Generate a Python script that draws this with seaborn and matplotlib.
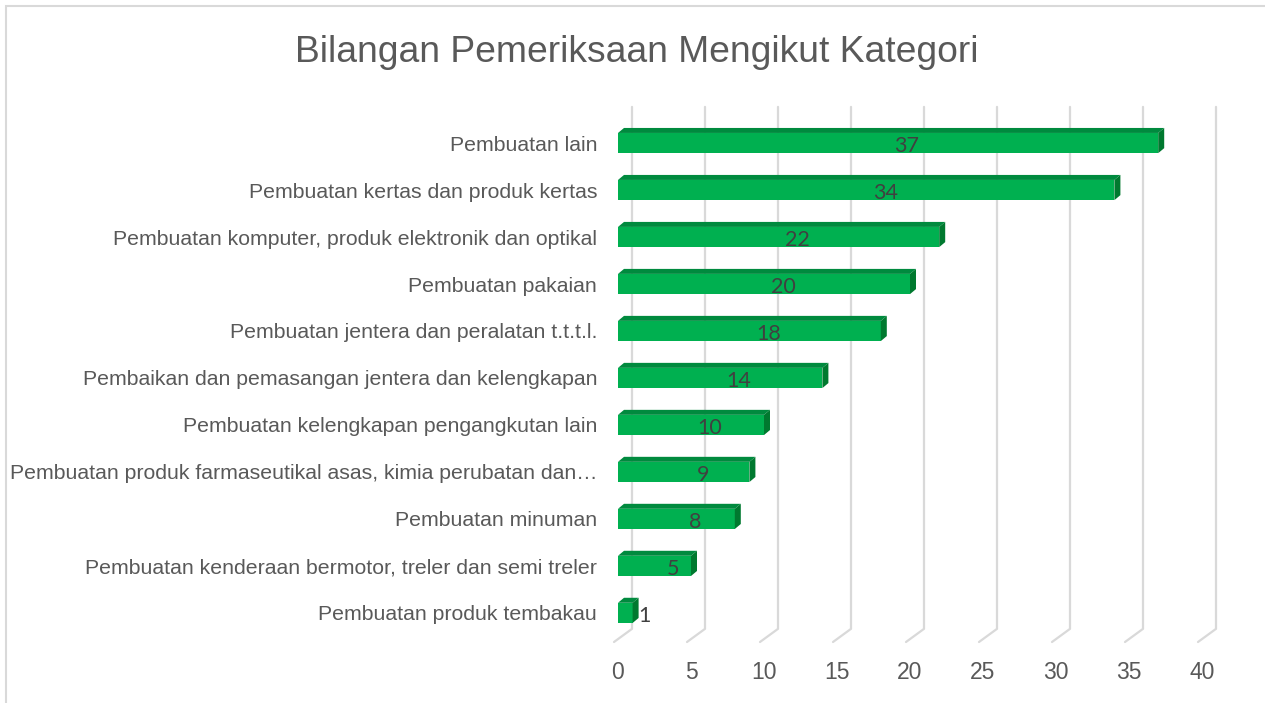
import matplotlib
matplotlib.use("Agg")
import matplotlib.pyplot as plt
import seaborn as sns
import pandas as pd
from matplotlib.patches import Polygon, Rectangle

# Data
categories = [
    "Pembuatan lain",
    "Pembuatan kertas dan produk kertas",
    "Pembuatan komputer, produk elektronik dan optikal",
    "Pembuatan pakaian",
    "Pembuatan jentera dan peralatan t.t.t.l.",
    "Pembaikan dan pemasangan jentera dan kelengkapan",
    "Pembuatan kelengkapan pengangkutan lain",
    "Pembuatan produk farmaseutikal asas, kimia perubatan dan\u2026",
    "Pembuatan minuman",
    "Pembuatan kenderaan bermotor, treler dan semi treler",
    "Pembuatan produk tembakau",
]
values = [37, 34, 22, 20, 18, 14, 10, 9, 8, 5, 1]
xticks = [0, 5, 10, 15, 20, 25, 30, 35, 40]

df = pd.DataFrame({"Kategori": categories, "Bilangan": values})

sns.set_theme(style="white")
plt.rcParams["font.family"] = ["Liberation Sans", "DejaVu Sans"]

W, H = 1265, 703
fig = plt.figure(figsize=(W / 100, H / 100), dpi=100)
ax = fig.add_axes([618 / W, (H - 642) / H, 584 / W, 537 / H])

green = "#00B050"
top_col = "#008A3E"
side_col = "#00792F"
grid_col = "#D9D9D9"
text_col = "#595959"

sns.barplot(data=df, x="Bilangan", y="Kategori", orient="h", color=green,
            width=0.43, saturation=1, ax=ax, zorder=3, linewidth=0)

ax.set_xlim(0, 40)
ax.set_ylim(10.62, -0.81)

# depth of the 3D bars, in data units
px_x = 584 / 40
px_y = 47
dx = 6 / px_x
dy = 5 / px_y

bars = list(ax.patches)
for p in bars:
    x0, v = p.get_x(), p.get_width()
    y0, h = p.get_y(), p.get_height()
    top = Polygon([(x0, y0), (x0 + v, y0), (x0 + v + dx, y0 - dy), (x0 + dx, y0 - dy)],
                  closed=True, facecolor=top_col, edgecolor="none", zorder=3, clip_on=False)
    side = Polygon([(x0 + v, y0), (x0 + v, y0 + h), (x0 + v + dx, y0 + h - dy), (x0 + v + dx, y0 - dy)],
                   closed=True, facecolor=side_col, edgecolor="none", zorder=3, clip_on=False)
    ax.add_patch(top)
    ax.add_patch(side)

# back wall gridlines with floor diagonal
back = 14 / px_x
front = -4 / px_x
for t in xticks:
    ax.plot([t + back, t + back, t + front], [-0.77, 10.34, 10.62],
            color=grid_col, lw=1.6, zorder=1, clip_on=False)

# value labels
lab_font = ["Lato", "DejaVu Sans"]
for i, v in enumerate(values):
    if v < 3:
        ax.text(v + dx, i + 0.06, str(v), ha="left", va="center",
                fontsize=15.5, color="#404040", family=lab_font, zorder=5)
    else:
        ax.text(v / 2 + 19 / px_x, i + 0.06, str(v), ha="center", va="center",
                fontsize=15.5, color="#404040", family=lab_font, zorder=5)

ax.set_xticks(xticks)
ax.set_xticklabels([str(t) for t in xticks])
ax.tick_params(axis="x", length=0, pad=14, labelsize=16.5, labelcolor=text_col)
ax.tick_params(axis="y", length=0, pad=15, labelsize=15.3, labelcolor=text_col)
ax.set_xlabel("")
ax.set_ylabel("")
for s in ax.spines.values():
    s.set_visible(False)
ax.set_facecolor("none")

fig.text(637 / W, 1 - 52 / H, "Bilangan Pemeriksaan Mengikut Kategori",
         ha="center", va="center", fontsize=26.8, color=text_col)

fig.patches.append(Rectangle((5.5 / W, -0.02), 1.1, (H - 6.5) / H + 0.02, fill=False,
                             edgecolor=grid_col, lw=1.5, transform=fig.transFigure))

fig.savefig("out.png", dpi=100)
